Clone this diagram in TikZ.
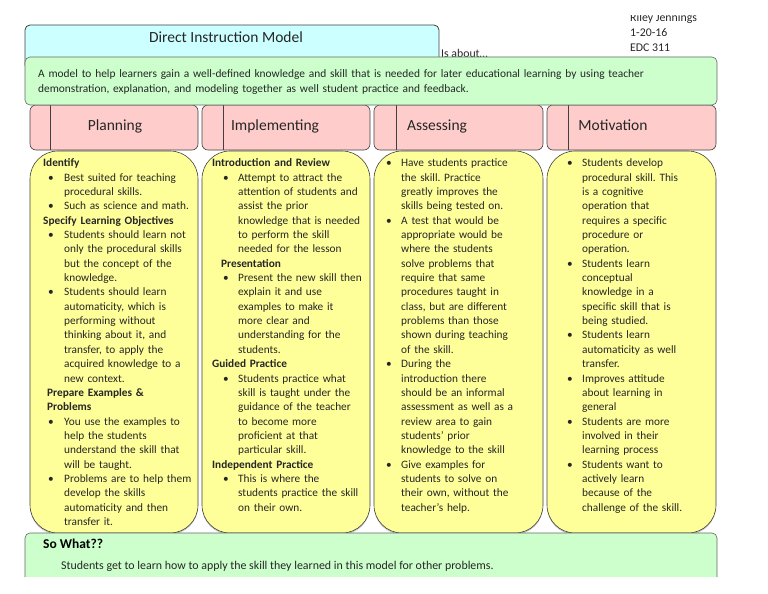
\documentclass[tikz,border=0pt]{standalone}
\usepackage{fontspec}
\setmainfont{Carlito}
\usepackage{xcolor}
\usepackage{tikz}
\usetikzlibrary{shadows}
\frenchspacing

\definecolor{titlecyan}{HTML}{CCFFFF}
\definecolor{aboutgreen}{HTML}{CCFFCC}
\definecolor{headpink}{HTML}{FFCCCC}
\definecolor{bodyyellow}{HTML}{FFFF99}
\definecolor{edgegray}{HTML}{404040}
\definecolor{ink}{HTML}{262626}

% heading line, bullet line
\newcommand{\hd}[2][0]{\par\hangindent=#1pt\hangafter=0\noindent\textbf{#2}}
\newcommand{\bul}[3]{\par\hangindent=#2pt\hangafter=1\noindent\hspace*{#1pt}\makebox[\dimexpr#2pt-#1pt\relax][l]{\textbullet}#3}

\begin{document}
\begin{tikzpicture}[x=1pt,y=-1pt,
  colbox/.style={fill=bodyyellow, draw=edgegray, line width=0.6pt, rounded corners=28pt,
    drop shadow={shadow xshift=0pt, shadow yshift=-1.5pt, opacity=0.45}},
  headbox/.style={fill=headpink, draw=edgegray, line width=0.6pt, rounded corners=6pt},
  headtext/.style={anchor=base, inner sep=0pt, font=\fontsize{15.5}{18}\selectfont, text=ink},
  coltext/.style={anchor=base west, inner sep=0pt, text width=175pt, align=left,
    font=\fontsize{11.3}{14.36}\selectfont, text=ink},
  smalltext/.style={anchor=base west, inner sep=0pt, font=\fontsize{11.4}{15}\selectfont, text=ink}]
\useasboundingbox (0,0) rectangle (768,594);

% name and date, cut at the top
\begin{scope}
\clip (600,15.5) rectangle (720,60);
\node[smalltext, font=\fontsize{11.8}{15}\selectfont] (name) at (630,22) {Riley Jennings};
\node[smalltext, font=\fontsize{11.8}{15}\selectfont] (date) at (630,37) {1-20-16};
\node[smalltext, font=\fontsize{11.8}{15}\selectfont] (course) at (630,52) {EDC 311};
\end{scope}

% title
\filldraw[fill=titlecyan, draw=edgegray, line width=0.8pt, rounded corners=5pt] (25,70) rectangle (439,25);
\node[headtext] (title) at (226,43) {Direct Instruction Model};
\node[smalltext, font=\fontsize{11.8}{14}\selectfont] (isabout) at (441,57) {Is about…};

% column headers
\filldraw[headbox] (30,105) rectangle (198,150);
\filldraw[headbox] (202,105) rectangle (370,150);
\filldraw[headbox] (374,105) rectangle (543,150);
\filldraw[headbox] (547,105) rectangle (716,150);
\draw[edgegray, line width=0.6pt] (50,105) -- (50,150);
\draw[edgegray, line width=0.6pt] (223,105) -- (223,150);
\draw[edgegray, line width=0.6pt] (396,105) -- (396,150);
\draw[edgegray, line width=0.6pt] (568,105) -- (568,150);
\node[headtext] (planning) at (115,130) {Planning};
\node[headtext] (implementing) at (275,130) {Implementing};
\node[headtext] (assessing) at (437,130) {Assessing};
\node[headtext] (motivation) at (613,130) {Motivation};

% what it is about
\filldraw[fill=aboutgreen, draw=edgegray!80, line width=0.6pt, rounded corners=5pt] (25,57) rectangle (717,105);
\node[smalltext, text width=690pt, align=left] (about) at (38,77.5)
  {A model to help learners gain a well-defined knowledge and skill that is needed for later educational learning by using teacher\newline
   demonstration, explanation, and modeling together as well student practice and feedback.};

% column bodies
\filldraw[colbox] (30,151) rectangle (198,533);
\filldraw[colbox] (202,151) rectangle (370,533);
\filldraw[colbox] (374,151) rectangle (543,533);
\filldraw[colbox] (547,151) rectangle (716,533);

\node[coltext] (plantext) at (43,152.3) {%
\hd{Identify}
\bul{5}{21}{Best suited for teaching\newline procedural skills.}
\bul{5}{21}{Such as science and math.}
\hd{Specify Learning Objectives}
\bul{5}{21}{Students should learn not\newline only the procedural skills\newline but the concept of the\newline knowledge.}
\bul{5}{21}{Students should learn\newline automaticity, which is\newline performing without\newline thinking about it, and\newline transfer, to apply the\newline acquired knowledge to a\newline new context.}
\hd[4]{Prepare Examples \&\newline Problems}
\bul{5}{21}{You use the examples to\newline help the students\newline understand the skill that\newline will be taught.}
\bul{5}{21}{Problems are to help them\newline develop the skills\newline automaticity and then\newline transfer it.}\par};

\node[coltext] (impltext) at (212,152.3) {%
\hd{Introduction and Review}
\bul{11}{26}{Attempt to attract the\newline attention of students and\newline assist the prior\newline knowledge that is needed\newline to perform the skill\newline needed for the lesson}
\hd[9]{Presentation}
\bul{11}{26}{Present the new skill then\newline explain it and use\newline examples to make it\newline more clear and\newline understanding for the\newline students.}
\hd{Guided Practice}
\bul{11}{26}{Students practice what\newline skill is taught under the\newline guidance of the teacher\newline to become more\newline proficient at that\newline particular skill.}
\hd{Independent Practice}
\bul{11}{26}{This is where the\newline students practice the skill\newline on their own.}\par};

\node[coltext] (assesstext) at (386,152.3) {%
\bul{0}{15}{Have students practice\newline the skill. Practice\newline greatly improves the\newline skills being tested on.}
\bul{0}{15}{A test that would be\newline appropriate would be\newline where the students\newline solve problems that\newline require that same\newline procedures taught in\newline class, but are different\newline problems than those\newline shown during teaching\newline of the skill.}
\bul{0}{15}{During the\newline introduction there\newline should be an informal\newline assessment as well as a\newline review area to gain\newline students’ prior\newline knowledge to the skill}
\bul{0}{15}{Give examples for\newline students to solve on\newline their own, without the\newline teacher’s help.}\par};

\node[coltext] (motivtext) at (567,152.3) {%
\bul{0}{15}{Students develop\newline procedural skill. This\newline is a cognitive\newline operation that\newline requires a specific\newline procedure or\newline operation.}
\bul{0}{15}{Students learn\newline conceptual\newline knowledge in a\newline specific skill that is\newline being studied.}
\bul{0}{15}{Students learn\newline automaticity as well\newline transfer.}
\bul{0}{15}{Improves attitude\newline about learning in\newline general}
\bul{0}{15}{Students are more\newline involved in their\newline learning process}
\bul{0}{15}{Students want to\newline actively learn\newline because of the\newline challenge of the skill.}\par};

% so what, cut at the bottom
\fill[aboutgreen] (25,577) -- (25,538) arc (180:270:5) -- (712,533) arc (270:360:5) -- (717,577) -- cycle;
\draw[edgegray!80, line width=0.6pt] (25,577) -- (25,538) arc (180:270:5) -- (712,533) arc (270:360:5) -- (717,577);
\node[anchor=base west, inner sep=0pt, font=\bfseries\fontsize{13.5}{16}\selectfont, text=black] (sowhat) at (43,548) {So What??};
\node[smalltext, font=\fontsize{11.9}{15}\selectfont] (sowhattext) at (61,569) {Students get to learn how to apply the skill they learned in this model for other problems.};
\end{tikzpicture}
\end{document}
